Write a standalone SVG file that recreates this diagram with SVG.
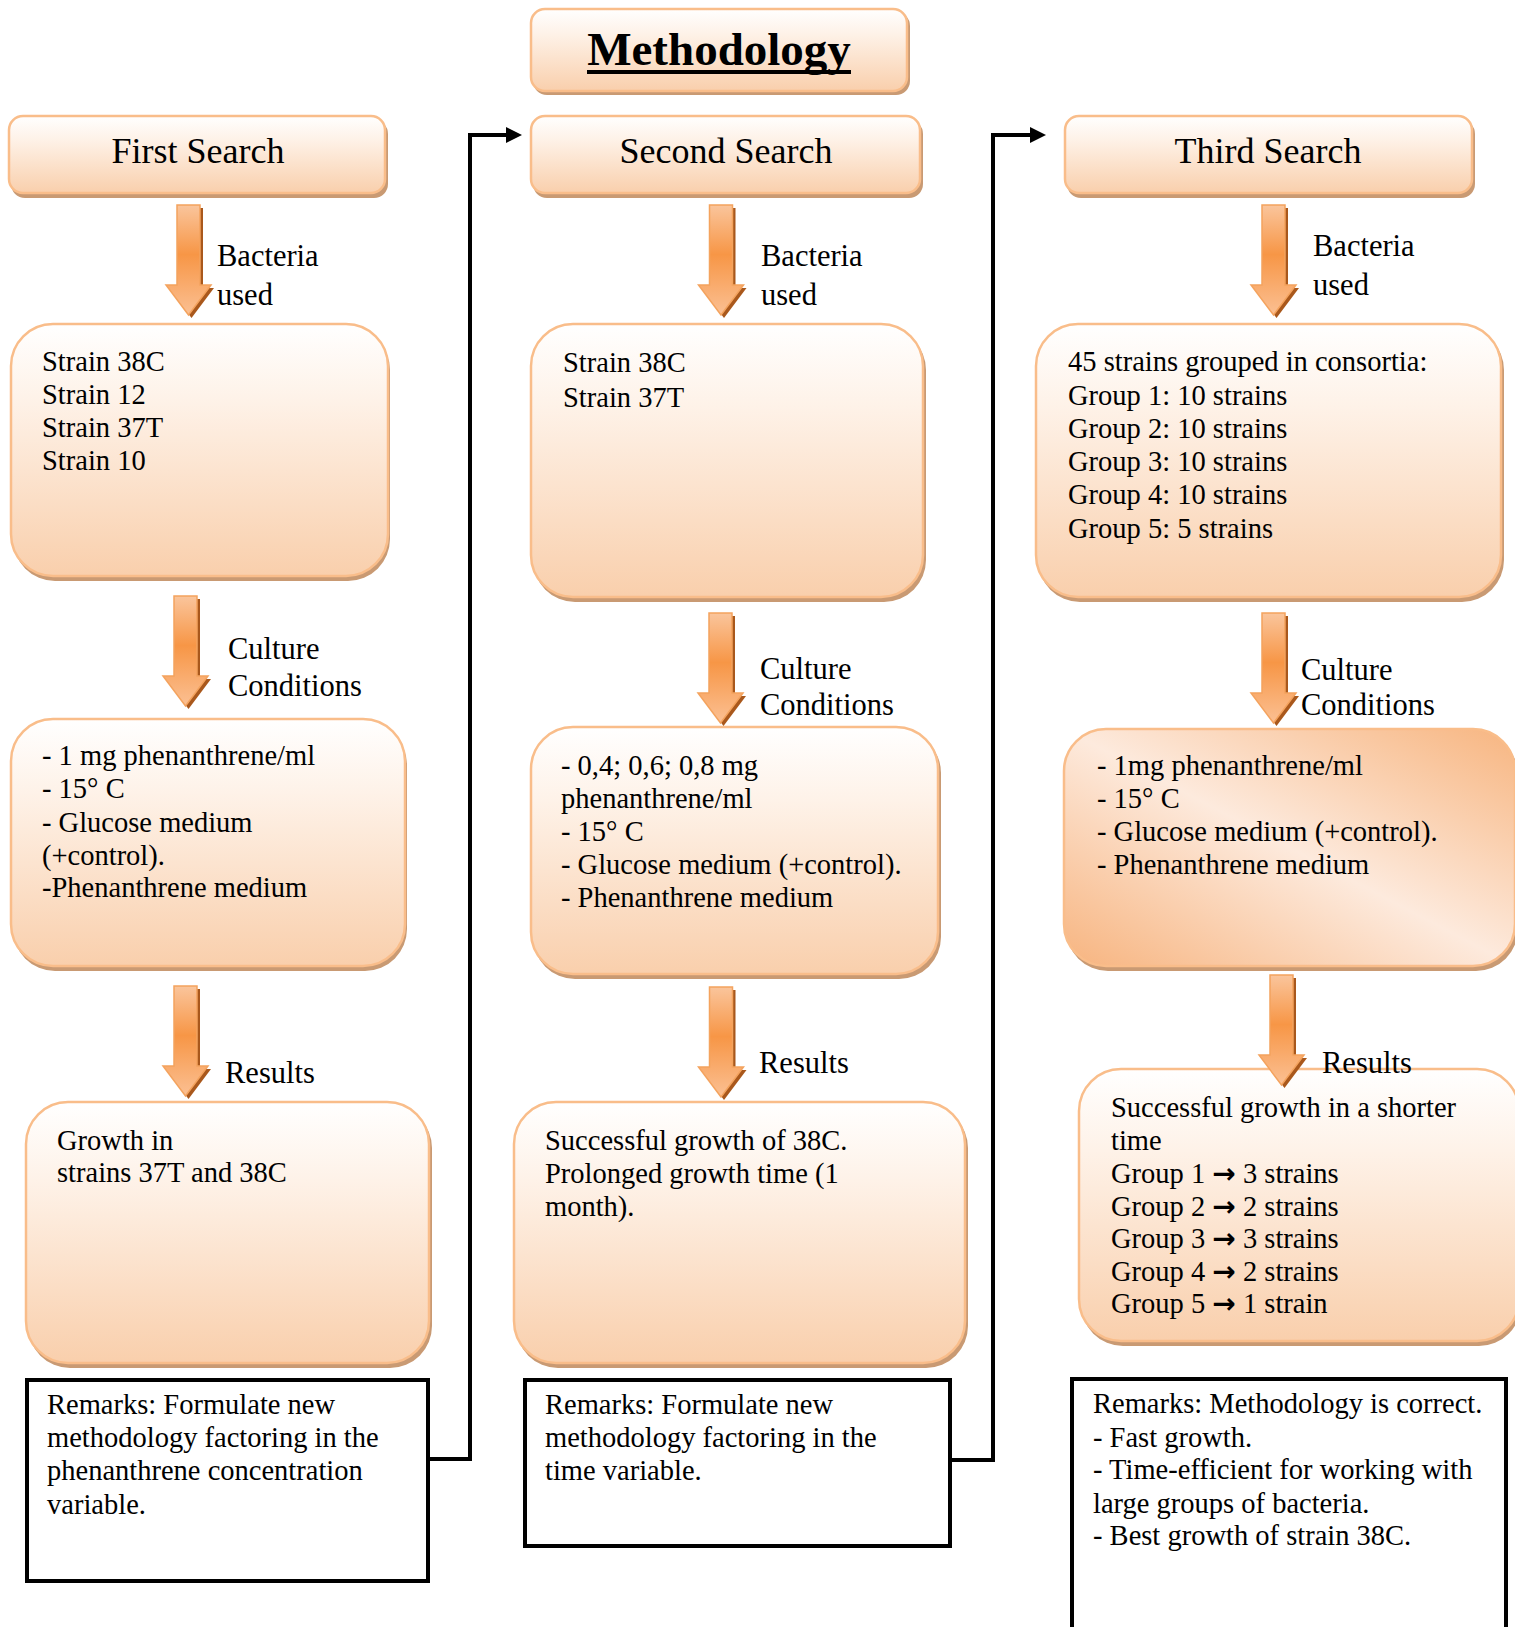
<svg xmlns="http://www.w3.org/2000/svg" width="1515" height="1627" viewBox="0 0 1515 1627">
<style>
.t{font-family:"Liberation Serif","Times New Roman",serif;font-size:28.5px;fill:#000}
.lb{font-family:"Liberation Serif","Times New Roman",serif;font-size:30.5px;fill:#000}
.ti{font-family:"Liberation Serif","Times New Roman",serif;font-size:36px;fill:#000;text-anchor:middle}
.hd{font-family:"Liberation Serif","Times New Roman",serif;font-size:47px;font-weight:bold;fill:#000;text-anchor:middle}
.ar{font-family:"DejaVu Sans",sans-serif;font-weight:bold;font-size:28px}
.box{fill:url(#boxg);stroke:#f9bd8a;stroke-width:2.5}
.sh{fill:#c99a73}
.rem{fill:#fff;stroke:#000;stroke-width:4}
.con{fill:none;stroke:#000;stroke-width:4}
.ba{fill:url(#arrg);stroke:#f4a35e;stroke-width:1.5}
.bas{fill:#a9581c}
</style>
<defs>
<linearGradient id="boxg" x1="0" y1="0" x2="0" y2="1">
<stop offset="0" stop-color="#ffffff"/>
<stop offset="0.3" stop-color="#fef2e8"/>
<stop offset="1" stop-color="#f9cfac"/>
</linearGradient>
<linearGradient id="diag" x1="1" y1="0" x2="0" y2="1">
<stop offset="0" stop-color="#f7b580"/>
<stop offset="0.5" stop-color="#fdeadd"/>
<stop offset="1" stop-color="#f7b47f"/>
</linearGradient>
<linearGradient id="arrg" x1="0" y1="0" x2="0" y2="1">
<stop offset="0" stop-color="#fac59c"/>
<stop offset="0.45" stop-color="#f79646"/>
<stop offset="1" stop-color="#fbc093"/>
</linearGradient>
<path id="arr" d="M-11.5,0 H11.5 V80 H22.5 L0,110 L-22.5,80 H-11.5 Z"/>
<marker id="ah" markerUnits="userSpaceOnUse" markerWidth="16" markerHeight="16" viewBox="0 0 16 16" refX="4" refY="8" orient="auto">
<path d="M0,0 L16,8 L0,16 Z" fill="#000"/>
</marker>
</defs>
<rect width="1515" height="1627" fill="#fff"/>

<g id="methodology">
<rect class="sh" x="533" y="12" width="377" height="83" rx="14"/>
<rect class="box" x="531" y="9" width="376" height="82" rx="14"/>
<text class="hd" x="719" y="65">Methodology</text>
<line x1="587" y1="72" x2="851" y2="72" stroke="#000" stroke-width="4"/>
</g>

<g id="first-search">
<rect class="sh" x="11" y="120" width="377" height="78" rx="14"/>
<rect class="box" x="9" y="116" width="376" height="77" rx="14"/>
<text class="ti" x="198" y="163">First Search</text>
</g>
<g id="second-search">
<rect class="sh" x="533" y="120" width="390" height="78" rx="14"/>
<rect class="box" x="531" y="116" width="389" height="77" rx="14"/>
<text class="ti" x="726" y="163">Second Search</text>
</g>
<g id="third-search">
<rect class="sh" x="1067" y="120" width="408" height="78" rx="14"/>
<rect class="box" x="1065" y="116" width="407" height="77" rx="14"/>
<text class="ti" x="1268" y="163">Third Search</text>
</g>

<g id="bacteria-1">
<rect class="sh" x="13" y="328" width="377" height="253" rx="42"/>
<rect class="box" x="11" y="324" width="377" height="252" rx="42"/>
<text class="t" x="42" y="371">Strain 38C</text>
<text class="t" x="42" y="404">Strain 12</text>
<text class="t" x="42" y="437">Strain 37T</text>
<text class="t" x="42" y="470">Strain 10</text>
</g>
<g id="culture-1">
<rect class="sh" x="13" y="723" width="394" height="248" rx="42"/>
<rect class="box" x="11" y="719" width="394" height="247" rx="42"/>
<text class="t" x="42" y="765">- 1 mg phenanthrene/ml</text>
<text class="t" x="42" y="798">- 15° C</text>
<text class="t" x="42" y="832">- Glucose medium</text>
<text class="t" x="42" y="865">(+control).</text>
<text class="t" x="42" y="897">-Phenanthrene medium</text>
</g>
<g id="results-1">
<rect class="sh" x="28" y="1106" width="404" height="262" rx="42"/>
<rect class="box" x="26" y="1102" width="403" height="261" rx="42"/>
<text class="t" x="57" y="1150">Growth in</text>
<text class="t" x="57" y="1182">strains 37T and 38C</text>
</g>
<g id="remarks-1">
<rect class="rem" x="27" y="1380" width="401" height="201"/>
<text class="t" x="47" y="1414">Remarks: Formulate new</text>
<text class="t" x="47" y="1447">methodology factoring in the</text>
<text class="t" x="47" y="1480">phenanthrene concentration</text>
<text class="t" x="47" y="1514">variable.</text>
</g>

<g id="bacteria-2">
<rect class="sh" x="533" y="328" width="393" height="274" rx="42"/>
<rect class="box" x="531" y="324" width="392" height="273" rx="42"/>
<text class="t" x="563" y="372">Strain 38C</text>
<text class="t" x="563" y="407">Strain 37T</text>
</g>
<g id="culture-2">
<rect class="sh" x="533" y="731" width="408" height="248" rx="42"/>
<rect class="box" x="531" y="727" width="407" height="247" rx="42"/>
<text class="t" x="561" y="775">- 0,4; 0,6; 0,8 mg</text>
<text class="t" x="561" y="808">phenanthrene/ml</text>
<text class="t" x="561" y="841">- 15° C</text>
<text class="t" x="561" y="874">- Glucose medium (+control).</text>
<text class="t" x="561" y="907">- Phenanthrene medium</text>
</g>
<g id="results-2">
<rect class="sh" x="516" y="1106" width="452" height="262" rx="42"/>
<rect class="box" x="514" y="1102" width="451" height="261" rx="42"/>
<text class="t" x="545" y="1150">Successful growth of 38C.</text>
<text class="t" x="545" y="1183">Prolonged growth time (1</text>
<text class="t" x="545" y="1216">month).</text>
</g>
<g id="remarks-2">
<rect class="rem" x="525" y="1380" width="425" height="166"/>
<text class="t" x="545" y="1414">Remarks: Formulate new</text>
<text class="t" x="545" y="1447">methodology factoring in the</text>
<text class="t" x="545" y="1480">time variable.</text>
</g>

<g id="bacteria-3">
<rect class="sh" x="1038" y="328" width="466" height="274" rx="42"/>
<rect class="box" x="1036" y="324" width="465" height="273" rx="42"/>
<text class="t" x="1068" y="371">45 strains grouped in consortia:</text>
<text class="t" x="1068" y="405">Group 1: 10 strains</text>
<text class="t" x="1068" y="438">Group 2: 10 strains</text>
<text class="t" x="1068" y="471">Group 3: 10 strains</text>
<text class="t" x="1068" y="504">Group 4: 10 strains</text>
<text class="t" x="1068" y="538">Group 5: 5 strains</text>
</g>
<g id="culture-3">
<rect class="sh" x="1066" y="733" width="452" height="238" rx="42"/>
<rect x="1064" y="729" width="451" height="237" rx="42" fill="url(#diag)" stroke="#f9bd8a" stroke-width="2.5"/>
<text class="t" x="1097" y="775">- 1mg phenanthrene/ml</text>
<text class="t" x="1097" y="808">- 15° C</text>
<text class="t" x="1097" y="841">- Glucose medium (+control).</text>
<text class="t" x="1097" y="874">- Phenanthrene medium</text>
</g>
<g id="results-3">
<rect class="sh" x="1081" y="1073" width="440" height="273" rx="42"/>
<rect class="box" x="1079" y="1069" width="440" height="272" rx="42"/>
<text class="t" x="1111" y="1117">Successful growth in a shorter</text>
<text class="t" x="1111" y="1150">time</text>
<text class="t" x="1111" y="1183">Group 1 <tspan class="ar">→</tspan> 3 strains</text>
<text class="t" x="1111" y="1216">Group 2 <tspan class="ar">→</tspan> 2 strains</text>
<text class="t" x="1111" y="1248">Group 3 <tspan class="ar">→</tspan> 3 strains</text>
<text class="t" x="1111" y="1281">Group 4 <tspan class="ar">→</tspan> 2 strains</text>
<text class="t" x="1111" y="1313">Group 5 <tspan class="ar">→</tspan> 1 strain</text>
</g>
<g id="remarks-3">
<rect class="rem" x="1072" y="1379" width="434" height="300"/>
<text class="t" x="1093" y="1413">Remarks: Methodology is correct.</text>
<text class="t" x="1093" y="1447">- Fast growth.</text>
<text class="t" x="1093" y="1479">- Time-efficient for working with</text>
<text class="t" x="1093" y="1513">large groups of bacteria.</text>
<text class="t" x="1093" y="1545">- Best growth of strain 38C.</text>
</g>

<g id="connectors">
<path class="con" d="M430,1459 H470 V135 H510" marker-end="url(#ah)"/>
<path class="con" d="M952,1460 H993 V135 H1034" marker-end="url(#ah)"/>

<use href="#arr" class="bas" transform="translate(191.5,208)"/>
<use href="#arr" class="ba" transform="translate(188.5,205)"/>
<text class="lb" x="217" y="266">Bacteria</text>
<text class="lb" x="217" y="305">used</text>

<use href="#arr" class="bas" transform="translate(188.5,599)"/>
<use href="#arr" class="ba" transform="translate(185.5,596)"/>
<text class="lb" x="228" y="659">Culture</text>
<text class="lb" x="228" y="696">Conditions</text>

<use href="#arr" class="bas" transform="translate(188.5,989)"/>
<use href="#arr" class="ba" transform="translate(185.5,986)"/>
<text class="lb" x="225" y="1083">Results</text>

<use href="#arr" class="bas" transform="translate(724,208)"/>
<use href="#arr" class="ba" transform="translate(721,205)"/>
<text class="lb" x="761" y="266">Bacteria</text>
<text class="lb" x="761" y="305">used</text>

<use href="#arr" class="bas" transform="translate(723.5,616)"/>
<use href="#arr" class="ba" transform="translate(720.5,613)"/>
<text class="lb" x="760" y="679">Culture</text>
<text class="lb" x="760" y="715">Conditions</text>

<use href="#arr" class="bas" transform="translate(724,990)"/>
<use href="#arr" class="ba" transform="translate(721,987)"/>
<text class="lb" x="759" y="1073">Results</text>

<use href="#arr" class="bas" transform="translate(1276.5,208)"/>
<use href="#arr" class="ba" transform="translate(1273.5,205)"/>
<text class="lb" x="1313" y="256">Bacteria</text>
<text class="lb" x="1313" y="295">used</text>

<use href="#arr" class="bas" transform="translate(1276.5,616)"/>
<use href="#arr" class="ba" transform="translate(1273.5,613)"/>
<text class="lb" x="1301" y="680">Culture</text>
<text class="lb" x="1301" y="715">Conditions</text>

<use href="#arr" class="bas" transform="translate(1284.5,978)"/>
<use href="#arr" class="ba" transform="translate(1281.5,975)"/>
<text class="lb" x="1322" y="1073">Results</text>
</g>
</svg>
